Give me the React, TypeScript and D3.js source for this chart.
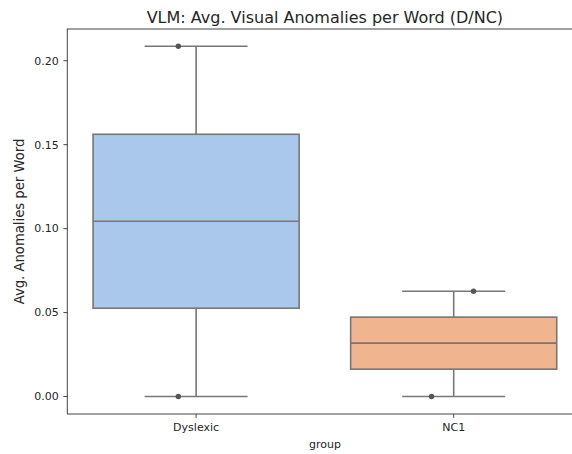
import React from "react";
import * as d3 from "d3";

const groups = ["Dyslexic", "NC1"];
const whiskerLow = [0.0, 0.0];
const q1 = [0.0526, 0.0163];
const median = [0.1044, 0.0318];
const q3 = [0.1562, 0.0473];
const whiskerHigh = [0.2086, 0.0627];
const fills = ["#aac8ec", "#f0b48f"];
// visible strip points (value, jitter in category units)
const pointGroup = ["Dyslexic", "Dyslexic", "NC1", "NC1"];
const pointValue = [0.2086, 0.0, 0.0627, 0.0];
const pointJitter = [-0.069, -0.069, 0.077, -0.086];
const yTicks = [0.0, 0.05, 0.1, 0.15, 0.2];

const W = 572;
const H = 454;
const left = 67.3;
const right = 582.5;
const top = 29;
const bottom = 414;

export default function App() {
  const x = d3.scaleBand<string>().domain(groups).range([left, right]).paddingInner(0).paddingOuter(0);
  const bw = x.bandwidth();
  const y = d3.scaleLinear().domain([-0.0104, 0.2189]).range([bottom, top]);
  const font = "DejaVu Sans, sans-serif";
  const lineC = "#777777";
  const cx = (g: string) => (x(g) as number) + bw / 2;
  return (
    <svg width={W} height={H} style={{ position: "absolute", left: 0, top: 0 }}>
      <rect x={0} y={0} width={W} height={H} fill="#fff" />
      {groups.map((g, i) => {
        const c = cx(g);
        const boxW = bw * 0.8;
        const capW = bw * 0.4;
        return (
          <g key={g}>
            <line x1={c} x2={c} y1={y(whiskerLow[i])} y2={y(q1[i])} stroke={lineC} strokeWidth={1.6} />
            <line x1={c} x2={c} y1={y(q3[i])} y2={y(whiskerHigh[i])} stroke={lineC} strokeWidth={1.6} />
            <line x1={c - capW / 2} x2={c + capW / 2} y1={y(whiskerLow[i])} y2={y(whiskerLow[i])} stroke={lineC} strokeWidth={1.6} />
            <line x1={c - capW / 2} x2={c + capW / 2} y1={y(whiskerHigh[i])} y2={y(whiskerHigh[i])} stroke={lineC} strokeWidth={1.6} />
            <rect x={c - boxW / 2} y={y(q3[i])} width={boxW} height={y(q1[i]) - y(q3[i])} fill={fills[i]} stroke={lineC} strokeWidth={1.6} />
            <line x1={c - boxW / 2} x2={c + boxW / 2} y1={y(median[i])} y2={y(median[i])} stroke={lineC} strokeWidth={1.6} />
          </g>
        );
      })}
      {pointValue.map((v, i) => (
        <circle key={i} cx={cx(pointGroup[i]) + pointJitter[i] * bw} cy={y(v)} r={2.7} fill="#555555" />
      ))}
      <rect x={left} y={top} width={right - left} height={bottom - top} fill="none" stroke="#444" strokeWidth={1} />
      {yTicks.map((t) => (
        <g key={t}>
          <line x1={left - 3.9} x2={left} y1={y(t)} y2={y(t)} stroke="#444" strokeWidth={1} />
          <text x={left - 8.5} y={y(t)} dy="0.35em" textAnchor="end" fontFamily={font} fontSize={11} fill="#262626">
            {d3.format(".2f")(t)}
          </text>
        </g>
      ))}
      {groups.map((g) => (
        <g key={g}>
          <line x1={cx(g)} x2={cx(g)} y1={bottom} y2={bottom + 3.9} stroke="#444" strokeWidth={1} />
          <text x={cx(g)} y={431} textAnchor="middle" fontFamily={font} fontSize={11} fill="#262626">
            {g}
          </text>
        </g>
      ))}
      <text x={(left + right) / 2} y={448} textAnchor="middle" fontFamily={font} fontSize={11} fill="#262626">
        group
      </text>
      <text transform={`translate(24,${(top + bottom) / 2}) rotate(-90)`} textAnchor="middle" fontFamily={font} fontSize={13.2} fill="#262626">
        Avg. Anomalies per Word
      </text>
      <text x={(left + right) / 2} y={23.3} textAnchor="middle" fontFamily={font} fontSize={16} fill="#262626">
        VLM: Avg. Visual Anomalies per Word (D/NC)
      </text>
    </svg>
  );
}
